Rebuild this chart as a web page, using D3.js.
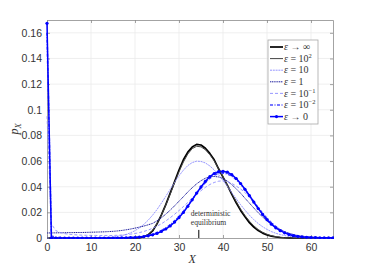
<!DOCTYPE html>
<html>
<head>
<meta charset="utf-8">
<script src="https://cdn.jsdelivr.net/npm/d3@7"></script>
<style>
  body { margin: 0; background: #fff; }
  .tick text { font-family: "Liberation Sans", Arial, sans-serif; font-size: 10.5px; fill: #333; }
</style>
</head>
<body>
<div id="chart"></div>
<script>
// grid of X values (0..65)
var xVals = d3.range(0, 66);

// p_X for each epsilon
var epsInf = [0,0,0,0,0,0,0,0,0,0,
  0,0,0,0,0,0,0,0,0,0,
  0,0.0002,0.0008,0.0025,0.0055,0.011,0.018,0.026,0.035,0.044,
  0.053,0.061,0.067,0.071,0.073,0.0725,0.070,0.066,0.061,0.054,
  0.0475,0.041,0.034,0.0275,0.0215,0.0165,0.012,0.0085,0.0058,0.0038,
  0.0024,0.0014,0.0008,0.0004,0.0002,0.0001,0,0,0,0,
  0,0,0,0,0,0];
var eps1e2 = [0,0,0,0,0,0,0,0,0,0,
  0,0,0,0,0,0,0,0,0,0,
  0.0001,0.0004,0.0011,0.0029,0.0060,0.0113,0.0180,0.0257,0.0343,0.0431,
  0.0516,0.0593,0.0655,0.0697,0.0715,0.0711,0.0688,0.0650,0.0602,0.0540,
  0.0477,0.0413,0.0347,0.0285,0.0226,0.0175,0.0131,0.0095,0.0066,0.0045,
  0.0029,0.0018,0.0011,0.0006,0.0003,0.0002,0.0001,0,0,0,
  0,0,0,0,0,0];
var eps10 = [0,0,0,0,0,0,0,0,0.0001,0.0001,
  0.0001,0.0001,0.0002,0.0003,0.0005,0.0008,0.0013,0.0019,0.0028,0.0041,
  0.0057,0.0079,0.0106,0.0139,0.0178,0.0222,0.0272,0.0325,0.0380,0.0434,
  0.0485,0.0529,0.0565,0.0588,0.0599,0.0597,0.0585,0.0562,0.0531,0.0493,
  0.0449,0.0403,0.0354,0.0306,0.0260,0.0217,0.0178,0.0143,0.0113,0.0088,
  0.0067,0.0050,0.0037,0.0027,0.0019,0.0013,0.0009,0.0006,0.0004,0.0002,
  0.0002,0.0001,0.0001,0,0,0];
var eps1 = [0.0039,0.0040,0.0040,0.0041,0.0041,0.0042,0.0042,0.0043,0.0043,0.0044,
  0.0045,0.0046,0.0047,0.0048,0.0050,0.0052,0.0055,0.0059,0.0064,0.0070,
  0.0077,0.0085,0.0093,0.0103,0.0114,0.0134,0.0158,0.0186,0.0217,0.0251,
  0.0287,0.0322,0.0359,0.0392,0.0422,0.0447,0.0466,0.0478,0.0480,0.0476,
  0.0463,0.0443,0.0416,0.0384,0.0349,0.0310,0.0272,0.0234,0.0197,0.0164,
  0.0133,0.0107,0.0084,0.0065,0.0049,0.0037,0.0027,0.0019,0.0014,0.0010,
  0.0006,0.0004,0.0003,0.0002,0.0001,0.0001];
var eps1em1 = [0.095,0.011,0.0058,0.0042,0.0034,0.0029,0.0026,0.0024,0.0022,0.0021,
  0.0020,0.0020,0.0019,0.0019,0.0019,0.0020,0.0021,0.0023,0.0026,0.0030,
  0.0035,0.0042,0.0051,0.0062,0.0076,0.0092,0.0111,0.0133,0.0158,0.0185,
  0.0214,0.0245,0.0277,0.0309,0.0340,0.0369,0.0395,0.0417,0.0433,0.0443,
  0.0446,0.0440,0.0426,0.0405,0.0382,0.0355,0.0315,0.0272,0.0229,0.0188,
  0.0150,0.0117,0.0089,0.0066,0.0048,0.0034,0.0024,0.0016,0.0011,0.0007,
  0.0005,0.0003,0.0002,0.0001,0.0001,0.0001];
var eps1em2 = [0.160,0.0015,0.0005,0.0003,0.0002,0.0002,0.0001,0.0001,0.0001,0.0001,
  0.0001,0.0001,0.0001,0.0001,0.0001,0.0001,0.0001,0.0002,0.0003,0.0004,
  0.0006,0.0009,0.0014,0.0021,0.0030,0.0042,0.0058,0.0078,0.0103,0.0133,
  0.0168,0.0208,0.0253,0.0300,0.0347,0.0392,0.0432,0.0466,0.0490,0.0504,
  0.0507,0.0500,0.0483,0.0456,0.0420,0.0378,0.0332,0.0284,0.0237,0.0193,
  0.0153,0.0118,0.0089,0.0065,0.0047,0.0033,0.0023,0.0015,0.0010,0.0007,
  0.0004,0.0003,0.0002,0.0001,0.0001,0.0001];
var eps0 = [0.1674,0,0,0,0,0,0,0,0,0,
  0,0,0,0,0,0,0,0.0001,0.0002,0.0003,
  0.0004,0.0007,0.0011,0.0017,0.0025,0.0036,0.0051,0.0070,0.0094,0.0124,
  0.0159,0.0199,0.0247,0.0298,0.0350,0.0398,0.0442,0.0478,0.0503,0.0517,
  0.0520,0.0513,0.0494,0.0464,0.0425,0.0380,0.0331,0.0280,0.0230,0.0184,
  0.0143,0.0108,0.0079,0.0057,0.0040,0.0027,0.0018,0.0012,0.0008,0.0005,
  0.0004,0.0003,0.0002,0.0002,0.0001,0.0001];

var xTicks = [0, 10, 20, 30, 40, 50, 60];
var yTicks = [0, 0.02, 0.04, 0.06, 0.08, 0.1, 0.12, 0.14, 0.16];
var detEq = 34.5;

// legend entries: label parts [relation, base, exponent]
var series = [
  {vals: epsInf,  rel: "\u2192", base: "\u221E", sup: "",   color: "#000000", w: 1.7, dash: null},
  {vals: eps1e2,  rel: "=",      base: "10",     sup: "2",  color: "#444444", w: 1.0, dash: null},
  {vals: eps10,   rel: "=",      base: "10",     sup: "",   color: "#8a8aff", w: 0.9, dash: "2,0.8"},
  {vals: eps1,    rel: "=",      base: "1",      sup: "",   color: "#1c1c9c", w: 1.0, dash: "1.2,0.6"},
  {vals: eps1em1, rel: "=",      base: "10",     sup: "\u22121", color: "#7e7eff", w: 0.8, dash: "3,2"},
  {vals: eps1em2, rel: "=",      base: "10",     sup: "\u22122", color: "#4a4aff", w: 1.6, dash: "3,1.5,1,1.5"},
  {vals: eps0,    rel: "\u2192", base: "0",      sup: "",   color: "#0000ff", w: 1.5, dash: null, dots: true}
];

var margin = {top: 20, right: 35, bottom: 30, left: 47},
    width = 368 - margin.left - margin.right,
    height = 268 - margin.top - margin.bottom;

var svg = d3.select("#chart").append("svg")
    .attr("width", 368)
    .attr("height", 268);

var g = svg.append("g")
    .attr("transform", "translate(" + margin.left + "," + margin.top + ")");

var x = d3.scaleLinear().domain([0, 65]).range([0, width]);
var y = d3.scaleLinear().domain([0, 0.17]).range([height, 0]);

//grid lines
g.append("g").selectAll("line.gx")
  .data(xTicks.slice(1))
  .enter().append("line")
    .attr("x1", function(d) { return x(d); }).attr("x2", function(d) { return x(d); })
    .attr("y1", 0).attr("y2", height)
    .style("stroke", "#ebebeb").style("stroke-width", 0.8);
g.append("g").selectAll("line.gy")
  .data(yTicks.slice(1))
  .enter().append("line")
    .attr("y1", function(d) { return y(d); }).attr("y2", function(d) { return y(d); })
    .attr("x1", 0).attr("x2", width)
    .style("stroke", "#ebebeb").style("stroke-width", 0.8);

//axes (ticks pointing inside, on all four sides)
var fmtY = function(d) { return d === 0 ? "0" : String(+d.toFixed(2)); };
function styleAxis(sel) {
  sel.select(".domain").style("stroke", "#8c8c8c").style("stroke-width", 0.8);
  sel.selectAll(".tick line").style("stroke", "#8c8c8c").style("stroke-width", 0.8);
}
g.append("g").attr("transform", "translate(0," + height + ")")
  .call(d3.axisBottom(x).tickValues(xTicks).tickSizeInner(-3).tickSizeOuter(0).tickPadding(6))
  .call(styleAxis);
g.append("g")
  .call(d3.axisLeft(y).tickValues(yTicks).tickFormat(fmtY).tickSizeInner(-3).tickSizeOuter(0).tickPadding(5))
  .call(styleAxis);
g.append("g")
  .call(d3.axisTop(x).tickValues(xTicks).tickFormat("").tickSizeInner(-3).tickSizeOuter(0))
  .call(styleAxis);
g.append("g").attr("transform", "translate(" + width + ",0)")
  .call(d3.axisRight(y).tickValues(yTicks).tickFormat("").tickSizeInner(-3).tickSizeOuter(0))
  .call(styleAxis);

//clip for curves
svg.append("defs").append("clipPath").attr("id", "plotclip")
  .append("rect").attr("x", -2).attr("y", -3).attr("width", width + 3).attr("height", height + 4);

var line = d3.line()
    .x(function(d, i) { return x(xVals[i]); })
    .y(function(d) { return y(d); });

var plot = g.append("g").attr("clip-path", "url(#plotclip)");
series.forEach(function(s) {
  plot.append("path")
    .datum(s.vals)
    .attr("d", line)
    .style("fill", "none")
    .style("stroke", s.color)
    .style("stroke-width", s.w)
    .style("stroke-dasharray", s.dash)
    .style("stroke-linejoin", "round");
  if (s.dots) {
    plot.selectAll(".dot")
      .data(s.vals)
      .enter().append("circle")
        .attr("class", "dot")
        .attr("cx", function(d, i) { return x(xVals[i]); })
        .attr("cy", function(d) { return y(d); })
        .attr("r", 1.6)
        .style("fill", s.color);
  }
});

//deterministic equilibrium marker
g.append("line")
  .attr("x1", x(detEq)).attr("x2", x(detEq))
  .attr("y1", y(0)).attr("y2", y(0.0063))
  .style("stroke", "#000").style("stroke-width", 1);
var eq = g.append("text")
  .attr("x", x(detEq) - 8)
  .attr("y", y(0.0172))
  .style("font-family", "'Liberation Serif', 'DejaVu Serif', serif")
  .style("font-size", "7.6px")
  .style("fill", "#333");
eq.append("tspan").text("deterministic");
eq.append("tspan").attr("x", x(detEq) - 8).attr("dy", 9).text("equilibrium");

//axis labels
g.append("text")
  .attr("x", x(33)).attr("y", height + 25)
  .attr("text-anchor", "middle")
  .style("font-family", "'Liberation Serif', serif")
  .style("font-style", "italic")
  .style("font-size", "12px")
  .style("fill", "#333")
  .text("X");
var yl = g.append("text")
  .attr("transform", "translate(-29," + (height / 2) + ") rotate(-90)")
  .attr("text-anchor", "middle")
  .style("font-family", "'Liberation Serif', serif")
  .style("font-style", "italic")
  .style("font-size", "12px")
  .style("fill", "#333");
yl.append("tspan").text("p");
yl.append("tspan").attr("dy", 3).style("font-size", "8.5px").text("X");

//legend
var lg = g.append("g").attr("transform", "translate(" + (268 - margin.left) + "," + (40 - margin.top) + ")");
lg.append("rect")
  .attr("width", 50).attr("height", 84)
  .style("fill", "#fff").style("stroke", "#a8a8a8").style("stroke-width", 0.8);
series.forEach(function(s, i) {
  var ry = 7 + i * 11.6;
  lg.append("line")
    .attr("x1", 2).attr("x2", 15).attr("y1", ry).attr("y2", ry)
    .style("stroke", s.color).style("stroke-width", s.w)
    .style("stroke-dasharray", s.dash);
  if (s.dots) {
    lg.append("circle").attr("cx", 8.5).attr("cy", ry).attr("r", 1.6).style("fill", s.color);
  }
  var t = lg.append("text")
    .attr("x", 16).attr("y", ry + 3.2)
    .style("font-family", "'Liberation Serif', serif")
    .style("font-size", "10px")
    .style("fill", "#333");
  t.append("tspan").style("font-style", "italic").text("\u03B5");
  t.append("tspan").text(" " + s.rel + " " + s.base);
  if (s.sup) {
    t.append("tspan").attr("dy", -4).style("font-size", "6.5px").text(s.sup);
  }
});
</script>
</body>
</html>
